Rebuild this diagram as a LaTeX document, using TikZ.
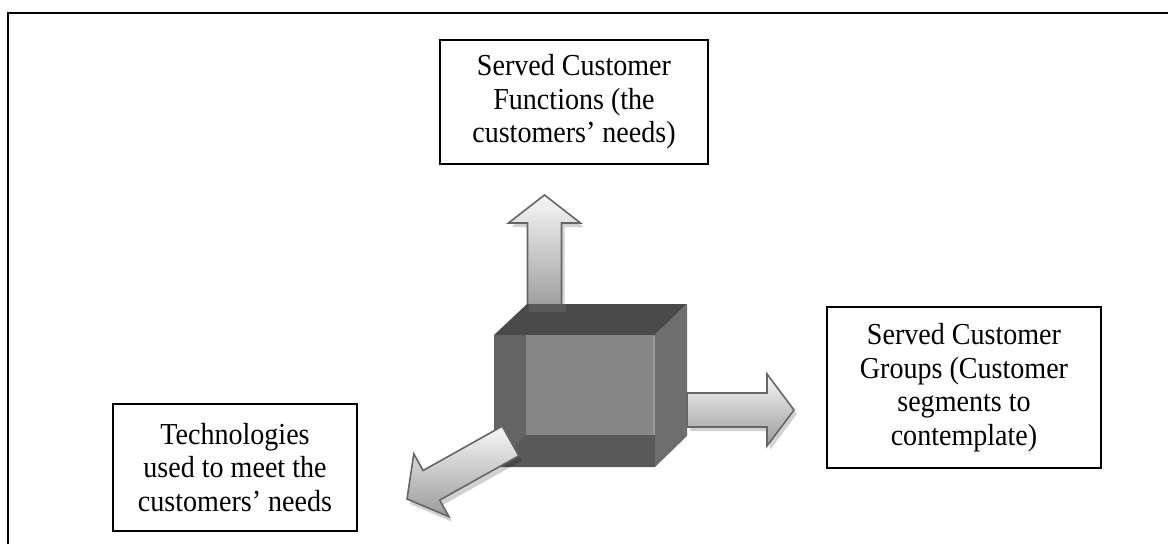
\documentclass[tikz,border=0pt]{standalone}
\usepackage{fontspec}
\setmainfont{Liberation Serif}[FakeStretch=0.92]
\definecolor{topface}{gray}{0.29}
\definecolor{rightface}{gray}{0.43}
\definecolor{leftstrip}{gray}{0.39}
\definecolor{bottomstrip}{gray}{0.35}
\definecolor{frontface}{gray}{0.525}
\definecolor{frontedge}{gray}{0.60}
\definecolor{seethrough}{gray}{0.35}
\definecolor{arrowline}{gray}{0.40}
\definecolor{arrowlight}{gray}{0.97}
\definecolor{arrowdark}{gray}{0.60}
\tikzset{
  txtbox/.style={draw=black, line width=1.6pt, fill=white, align=center, inner sep=0pt,
    font=\fontsize{30.5}{33.5}\selectfont},
  arrowbody/.style={draw=arrowline, line width=1.6pt, line join=miter,
    top color=arrowlight, bottom color=arrowdark},
  arrowshadow/.style={fill=black, draw=none, opacity=0.18},
  framestyle/.style={draw=black, line width=2pt},
}
\begin{document}
\begin{tikzpicture}[x=1pt, y=-1pt]
\useasboundingbox (0,0) rectangle (1168,544);

% up arrow (behind the cube)
\fill[arrowshadow, shift={(3,4)}] (527.5,312) -- (527.5,223) -- (508.5,223) -- (544.5,195) -- (580.5,223) -- (561.5,223) -- (561.5,312) -- cycle;
\path[arrowbody] (527.5,312) -- (527.5,223) -- (508.5,223) -- (544.5,195) -- (580.5,223) -- (561.5,223) -- (561.5,312) -- cycle;

% cube
\fill[topface] (494,335) -- (527,304) -- (687,304) -- (655,335) -- cycle;
\fill[rightface] (655,335) -- (687,304) -- (687,436) -- (655,467) -- cycle;
\fill[leftstrip] (494,335) rectangle (526,467);
\fill[bottomstrip] (494,467) -- (526,435) -- (655,435) -- (655,467) -- cycle;
\fill[frontface] (526,335) rectangle (655,435);
\draw[frontedge, line width=1.2pt] (654,336) -- (654,435);
\fill[seethrough] (529,304) rectangle (566,312);

% right arrow
\fill[arrowshadow, shift={(3,4)}] (687,393) -- (767,393) -- (767,374) -- (794,410) -- (767,446) -- (767,427) -- (687,427) -- cycle;
\path[arrowbody] (687,393) -- (767,393) -- (767,374) -- (794,410) -- (767,446) -- (767,427) -- (687,427) -- cycle;

% down-left arrow
\fill[arrowshadow, shift={(3,5)}] (502.2,426.2) -- (423.1,470.5) -- (413.8,453.9) -- (407,499) -- (449,516.7) -- (439.7,500.1) -- (518.8,455.8) -- cycle;
\path[arrowbody] (502.2,426.2) -- (423.1,470.5) -- (413.8,453.9) -- (407,499) -- (449,516.7) -- (439.7,500.1) -- (518.8,455.8) -- cycle;

% text boxes
\node[txtbox, minimum width=268pt, minimum height=124pt] (functions) at (574,102)
  {Served Customer\\Functions (the\\customers’ needs)};
\node[txtbox, minimum width=274pt, minimum height=161pt] (groups) at (964,387.5)
  {Served Customer\\Groups (Customer\\segments to\\contemplate)};
\node[txtbox, minimum width=244pt, minimum height=127pt] (technologies) at (235,467.5)
  {Technologies\\used to meet the\\customers’ needs};

% outer frame (top and left sides only)
\draw[framestyle] (8,544) -- (8,13) -- (1168,13);
\end{tikzpicture}
\end{document}
